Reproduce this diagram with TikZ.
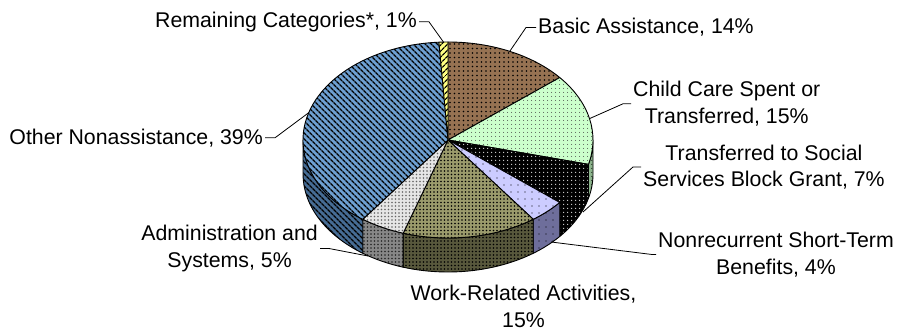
\documentclass[tikz,border=0pt]{standalone}
\usepackage{fontspec}
\setmainfont{Liberation Sans}
\usetikzlibrary{patterns.meta}

\definecolor{basicc}{RGB}{150,114,82}
\definecolor{childc}{RGB}{204,255,204}
\definecolor{childsd}{RGB}{140,180,140}
\definecolor{nonrecc}{RGB}{204,204,255}
\definecolor{nonrecsd}{RGB}{110,110,155}
\definecolor{workc}{RGB}{155,155,108}
\definecolor{worksd}{RGB}{88,88,60}
\definecolor{adminc}{RGB}{230,230,230}
\definecolor{adminsd}{RGB}{135,135,135}
\definecolor{otherc}{RGB}{110,160,210}
\definecolor{othersd}{RGB}{70,108,148}
\definecolor{remainc}{RGB}{255,255,130}

\begin{document}
\begin{tikzpicture}[x=1pt,y=1pt,
  lbl/.style={inner sep=2pt, align=center, font=\fontsize{21.3}{26.5}\selectfont},
  leader/.style={draw, line width=0.8pt},
  rim/.style={draw, line width=0.9pt, line join=round},
  basictop/.style={rim, preaction={fill=basicc}, pattern={Dots[radius=.8pt,distance=4.5pt]}, pattern color=black},
  childtop/.style={rim, preaction={fill=childc}, pattern={Dots[radius=.6pt,distance=4pt]}, pattern color=black!75},
  childside/.style={rim, preaction={fill=childsd}, pattern={Dots[radius=.6pt,distance=4pt]}, pattern color=black},
  ssbgtop/.style={rim, preaction={fill=black}, pattern={Dots[radius=.8pt,distance=4pt]}, pattern color=white!85!black},
  ssbgside/.style={ssbgtop},
  nonrectop/.style={rim, preaction={fill=nonrecc}, pattern={Dots[radius=.7pt,distance=7pt]}, pattern color=black},
  nonrecside/.style={rim, preaction={fill=nonrecsd}, pattern={Dots[radius=.7pt,distance=7pt]}, pattern color=black},
  worktop/.style={rim, preaction={fill=workc}, pattern={Dots[radius=.9pt,distance=3.5pt]}, pattern color=black},
  workside/.style={rim, preaction={fill=worksd}, pattern={Dots[radius=.9pt,distance=3.5pt]}, pattern color=black},
  admintop/.style={rim, preaction={fill=adminc}, pattern={Dots[radius=.9pt,distance=3.5pt]}, pattern color=black!60},
  adminside/.style={rim, preaction={fill=adminsd}, pattern={Dots[radius=.9pt,distance=3.5pt]}, pattern color=black!85},
  othertop/.style={rim, preaction={fill=otherc}, pattern={Lines[angle=-45,distance=4pt,line width=1.5pt]}, pattern color=black},
  otherside/.style={rim, preaction={fill=othersd}, pattern={Lines[angle=-45,distance=4pt,line width=1.5pt]}, pattern color=black},
  remaintop/.style={rim, preaction={fill=remainc}, pattern={Lines[angle=45,distance=4pt,line width=1.3pt]}, pattern color=black}]

\useasboundingbox (0,0) rectangle (899,332);

\begin{scope}[shift={(448,192)}]
\foreach \a/\b/\s in {0/-14.4/childside, -14.4/-39.6/ssbgside, -39.6/-54/nonrecside,
                      -54/-108/workside, -108/-126/adminside, -126/-180/otherside}
  \draw[\s] (\a:145 and 98) arc[start angle=\a, end angle=\b, x radius=145, y radius=98]
    -- ++(0,-34) arc[start angle=\b, end angle=\a, x radius=145, y radius=98] -- cycle;
\foreach \a/\b/\s in {90/39.6/basictop, 39.6/-14.4/childtop, -14.4/-39.6/ssbgtop,
                      -39.6/-54/nonrectop, -54/-108/worktop, -108/-126/admintop,
                      -126/-266.4/othertop, -266.4/-270/remaintop}
  \draw[\s] (0,0) -- (\a:145 and 98) arc[start angle=\a, end angle=\b, x radius=145, y radius=98] -- cycle;
\coordinate (remainpt) at (-268.2:145 and 98);
\coordinate (basicpt) at (64.8:145 and 98);
\coordinate (childpt) at (12.6:145 and 98);
\coordinate (otherpt) at (-196.2:145 and 98);
\end{scope}
\coordinate (ssbgpt) at (583,120);
\coordinate (nonrecpt) at (551,90);
\coordinate (adminpt) at (368,76);

\node[lbl, anchor=east] (remain) at (419,310.2) {Remaining Categories*, 1\%};
\node[lbl, anchor=west] (basic) at (536,304.5) {Basic Assistance, 14\%};
\node[lbl, anchor=west] (child) at (631,228.2) {Child Care Spent or\\Transferred, 15\%};
\node[lbl, anchor=west] (ssbg) at (641,165) {Transferred to Social\\Services Block Grant, 7\%};
\node[lbl, anchor=west] (nonrec) at (656,77.5) {Nonrecurrent Short-Term\\Benefits, 4\%};
\node[lbl] (work) at (523.5,25.5) {Work-Related Activities,\\15\%};
\node[lbl, anchor=east] (admin) at (320,83.5) {Administration and\\Systems, 5\%};
\node[lbl, anchor=east] (other) at (265,194.2) {Other Nonassistance, 39\%};

\draw[leader] (remain.east) -- ++(10,0) -- (remainpt);
\draw[leader] (basic.west) -- ++(-10,0) -- (basicpt);
\draw[leader] (child.west) -- ++(-8,0) -- (childpt);
\draw[leader] (ssbg.west) -- ++(-8,0) -- (ssbgpt);
\draw[leader] (nonrec.west) -- ++(-4,0) -- (nonrecpt);
\draw[leader] (admin.east) -- ++(9,0) -- (adminpt);
\draw[leader] (other.east) -- ++(10,0) -- (otherpt);
\end{tikzpicture}
\end{document}
